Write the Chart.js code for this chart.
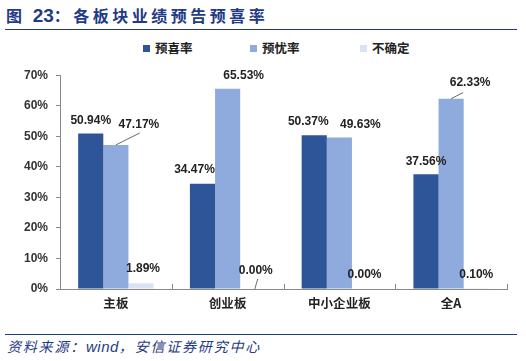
<!DOCTYPE html>
<html>
<head>
<meta charset="utf-8">
<script src="https://cdn.jsdelivr.net/npm/chart.js@4.4.1/dist/chart.umd.min.js"></script>
<style>
  html,body{margin:0;padding:0;background:#fff;}
  body{width:526px;height:361px;position:relative;overflow:hidden;font-family:"Noto Sans CJK SC","Liberation Sans",sans-serif;}
  #title{position:absolute;left:6px;top:3px;font-size:16px;font-weight:bold;color:#1F3A86;letter-spacing:3.5px;white-space:nowrap;line-height:24px;}
  #title .num{font-family:"Liberation Sans",Arial,sans-serif;font-size:19px;letter-spacing:0;}
  .rule{position:absolute;left:5px;width:512px;height:0;border-top:1.5px solid #1F3A86;}
  #legend{position:absolute;top:38px;left:0;width:526px;height:20px;}
  .li{position:absolute;top:0;height:20px;line-height:20px;font-size:12.5px;font-weight:bold;color:#222;white-space:nowrap;}
  .sq{position:absolute;top:7px;width:7px;height:7px;}
  #src{position:absolute;left:7px;top:336px;font-size:14px;font-style:italic;color:#1F3A86;white-space:nowrap;line-height:20px;letter-spacing:1.8px;}
  #src .w{font-family:"Liberation Sans",Arial,sans-serif;font-size:15px;letter-spacing:0.5px;}
  #wrap{position:absolute;left:0;top:60px;width:526px;height:250px;}
</style>
</head>
<body>
<div id="title">图 <span class="num">23</span>：各板块业绩预告预喜率</div>
<div class="rule" style="top:29px"></div>
<div id="legend"></div>
<div id="wrap"><canvas id="c"></canvas></div>
<div class="rule" style="top:334px"></div>
<div id="src">资料来源：<span class="w">wind</span>，安信证券研究中心</div>
<script>
const categories = ["主板", "创业板", "中小企业板", "全A"];
const seriesNames = ["预喜率", "预忧率", "不确定"];
const xiRate = [50.94, 34.47, 50.37, 37.56];
const youRate = [47.17, 65.53, 49.63, 62.33];
const uncertain = [1.89, 0.00, 0.00, 0.10];
const yTicks = [0, 10, 20, 30, 40, 50, 60, 70];

const colors = ["#2E5597", "#8FAADC", "#DAE3F3"];

// label placement offsets (style), relative to bar top-centre: [dx, dy]
const labelOffsets = [
  [[0,-13],[-8,-14],[-6,-13],[0,-13]],
  [[23,-20],[16,-13],[21,-13],[19,-16]],
  [[2,-15],[3,-18],[0,-14],[0,-14]]
];
// leader lines: [dataset, index, x1off, y1off, x2off, y2off]
const leaders = [
  [1,0,0,0,24,-12],
  [1,3,0,0,12,-6],
  [2,1,2,0,5,-10]
];

// HTML legend
const legendPos = [143, 250, 360];
const lg = document.getElementById('legend');
seriesNames.forEach((n,i)=>{
  const sq = document.createElement('div');
  sq.className='sq'; sq.style.left=legendPos[i]+'px'; sq.style.background=colors[i];
  lg.appendChild(sq);
  const t = document.createElement('div');
  t.className='li'; t.style.left=(legendPos[i]+12)+'px'; t.textContent=n;
  lg.appendChild(t);
});

const labelPlugin = {
  id:'vlabels',
  afterDatasetsDraw(chart){
    const ctx = chart.ctx;
    ctx.save();
    ctx.font = 'bold 12px "Liberation Sans", Arial, sans-serif';
    ctx.fillStyle = '#222';
    ctx.textAlign = 'center';
    ctx.textBaseline = 'middle';
    chart.data.datasets.forEach((ds, di)=>{
      const meta = chart.getDatasetMeta(di);
      meta.data.forEach((el, i)=>{
        const o = labelOffsets[di][i];
        ctx.fillText(ds.data[i].toFixed(2)+'%', el.x + o[0], el.y + o[1]);
      });
    });
    ctx.strokeStyle = '#444';
    ctx.lineWidth = 0.8;
    leaders.forEach(l=>{
      const el = chart.getDatasetMeta(l[0]).data[l[1]];
      ctx.beginPath();
      ctx.moveTo(el.x + l[2], el.y + l[3]);
      ctx.lineTo(el.x + l[4], el.y + l[5]);
      ctx.stroke();
    });
    // x-axis inner tick marks between categories
    const xs = chart.scales.x;
    const half = (xs.getPixelForValue(1) - xs.getPixelForValue(0)) / 2;
    const yb = chart.chartArea.bottom;
    ctx.strokeStyle = '#888';
    ctx.lineWidth = 1;
    for (let i = 1; i <= categories.length; i++) {
      const x = Math.round(xs.getPixelForValue(i-1) + half) + 0.5;
      ctx.beginPath();
      ctx.moveTo(x, yb);
      ctx.lineTo(x, yb - 5);
      ctx.stroke();
    }
    ctx.restore();
  }
};

new Chart(document.getElementById('c'), {
  type: 'bar',
  data: {
    labels: categories,
    datasets: [
      {label: seriesNames[0], data: xiRate, backgroundColor: colors[0]},
      {label: seriesNames[1], data: youRate, backgroundColor: colors[1]},
      {label: seriesNames[2], data: uncertain, backgroundColor: colors[2]}
    ]
  },
  options: {
    responsive: true,
    maintainAspectRatio: false,
    animation: false,
    layout: {padding: {top: 11, right: 19, left: 0, bottom: 0}},
    datasets: {bar: {categoryPercentage: 0.675, barPercentage: 1.0}},
    plugins: {legend: {display: false}, tooltip: {enabled: false}},
    scales: {
      x: {
        grid: {display: true, drawOnChartArea: false, drawTicks: false, color: 'rgba(0,0,0,0)'},
        border: {display: true, color: '#888', width: 1},
        ticks: {color: '#222', font: {family: '"Noto Sans CJK SC", sans-serif', size: 12.5, weight: 'bold'}, padding: 7},
        afterFit(s){ s.height = 21; }
      },
      y: {
        min: 0, max: 70,
        afterBuildTicks(s){ s.ticks = yTicks.map(v=>({value:v})); },
        grid: {drawOnChartArea: false, drawTicks: true, tickLength: 4, color: '#888'},
        border: {display: true, color: '#888', width: 1},
        ticks: {color: '#333', font: {family: '"Liberation Sans", Arial, sans-serif', size: 12, weight: 'bold'}, padding: 8, callback: v => v + '%'},
        afterFit(s){ s.width = 60; }
      }
    }
  },
  plugins: [labelPlugin]
});
</script>
</body>
</html>
